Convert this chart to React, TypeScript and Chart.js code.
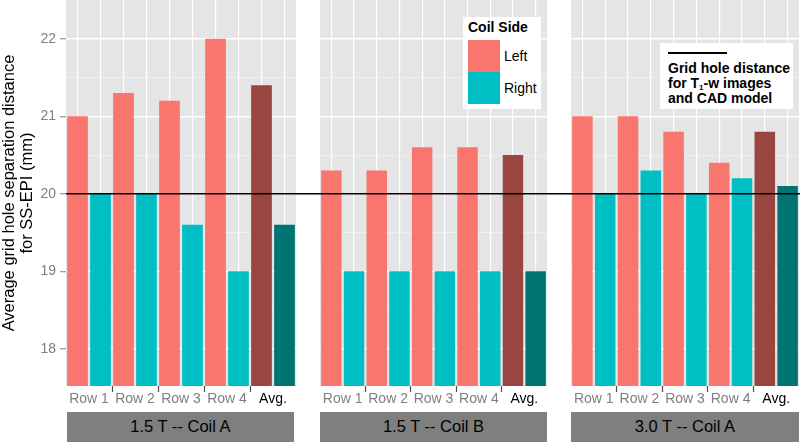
import React, { useEffect, useRef } from "react";
import { Chart, registerables } from "chart.js";

Chart.register(...registerables);

const FONT = "'Liberation Sans', Arial, Helvetica, sans-serif";

// ---------- data ----------
const CATEGORIES = ["Row 1", "Row 2", "Row 3", "Row 4", "Avg."];
const PANEL_TITLES = ["1.5 T -- Coil A", "1.5 T -- Coil B", "3.0 T -- Coil A"];
const SERIES_NAMES = ["Left", "Right"];

const LEFT_15T_COIL_A = [21.0, 21.3, 21.2, 22.0, 21.4];
const RIGHT_15T_COIL_A = [20.0, 20.0, 19.6, 19.0, 19.6];
const LEFT_15T_COIL_B = [20.3, 20.3, 20.6, 20.6, 20.5];
const RIGHT_15T_COIL_B = [19.0, 19.0, 19.0, 19.0, 19.0];
const LEFT_30T_COIL_A = [21.0, 21.0, 20.8, 20.4, 20.8];
const RIGHT_30T_COIL_A = [20.0, 20.3, 20.0, 20.2, 20.1];

const REFERENCE_DISTANCE = 20;
const Y_MIN = 17.52;
const Y_MAX = 22.5;
const Y_STEP = 0.5;
const Y_TITLE = ["Average grid hole separation distance", "for SS-EPI (mm)"];
const LEGEND_TITLE = "Coil Side";

const PANEL_SERIES = [
  [LEFT_15T_COIL_A, RIGHT_15T_COIL_A],
  [LEFT_15T_COIL_B, RIGHT_15T_COIL_B],
  [LEFT_30T_COIL_A, RIGHT_30T_COIL_A],
];

// ---------- styles ----------
const COLOR_LEFT = "#F8766D";
const COLOR_RIGHT = "#00BFC4";
const COLOR_LEFT_AVG = "#98463F";
const COLOR_RIGHT_AVG = "#007373";
const PANEL_BG = "#E5E5E5";
const GREY_TEXT = "#7F7F7F";

const CHART_H = 442;
const PLOT_BOTTOM = 386;
const LAYOUT = [
  { canvasLeft: 0, canvasWidth: 308, padLeft: 0, padRight: 12, axisWidth: 66 },
  { canvasLeft: 308, canvasWidth: 251, padLeft: 12, padRight: 12, axisWidth: 0 },
  { canvasLeft: 559, canvasWidth: 241, padLeft: 12, padRight: 1, axisWidth: 0 },
];

const GRID_SLOTS = CATEGORIES.flatMap((c) => SERIES_NAMES.map((s) => `${c} ${s}`));

function barColors(base: string, avg: string) {
  return CATEGORIES.map((c, i) => (i === CATEGORIES.length - 1 ? avg : base));
}

function makeConfig(panelIndex: number): any {
  const L = LAYOUT[panelIndex];
  const showY = panelIndex === 0;
  const isFirst = panelIndex === 0;
  const isLast = panelIndex === LAYOUT.length - 1;
  const [leftVals, rightVals] = PANEL_SERIES[panelIndex];

  const isMajor = (v: number) => Math.abs(v - Math.round(v)) < 1e-6;

  const panelBg = {
    id: "panelBg" + panelIndex,
    beforeDraw(chart: any) {
      const { ctx, chartArea } = chart;
      ctx.save();
      ctx.fillStyle = PANEL_BG;
      ctx.fillRect(chartArea.left, chartArea.top, chartArea.right - chartArea.left, chartArea.bottom - chartArea.top);
      ctx.restore();
    },
  };

  const refLine = {
    id: "refLine" + panelIndex,
    afterDatasetsDraw(chart: any) {
      const { ctx, chartArea } = chart;
      const y = chart.scales.y.getPixelForValue(REFERENCE_DISTANCE);
      const x0 = isFirst ? chartArea.left : 0;
      const x1 = isLast ? chartArea.right + L.padRight : chart.width;
      ctx.save();
      ctx.strokeStyle = "#000000";
      ctx.lineWidth = 1.5;
      ctx.beginPath();
      ctx.moveTo(x0, y);
      ctx.lineTo(x1, y);
      ctx.stroke();
      ctx.restore();
    },
  };

  return {
    type: "bar",
    data: {
      labels: CATEGORIES,
      datasets: [
        {
          label: SERIES_NAMES[0],
          data: leftVals,
          backgroundColor: barColors(COLOR_LEFT, COLOR_LEFT_AVG),
          borderWidth: 0,
          categoryPercentage: 1,
          barPercentage: 0.9,
          xAxisID: "x",
          yAxisID: "y",
        },
        {
          label: SERIES_NAMES[1],
          data: rightVals,
          backgroundColor: barColors(COLOR_RIGHT, COLOR_RIGHT_AVG),
          borderWidth: 0,
          categoryPercentage: 1,
          barPercentage: 0.9,
          xAxisID: "x",
          yAxisID: "y",
        },
      ],
    },
    options: {
      responsive: false,
      animation: false,
      devicePixelRatio: 1,
      layout: { padding: { left: L.padLeft, right: L.padRight, top: 0, bottom: 0 } },
      plugins: { legend: { display: false }, tooltip: { enabled: false }, title: { display: false } },
      scales: {
        x: {
          type: "category",
          position: "bottom",
          offset: true,
          grid: {
            offset: true,
            drawOnChartArea: false,
            drawTicks: true,
            tickLength: 6,
            lineWidth: 1,
            tickWidth: 1.2,
            color: "rgba(0,0,0,0)",
            tickColor: (ctx: any) =>
              ctx.index > 0 && ctx.index < CATEGORIES.length ? "#4D4D4D" : "rgba(0,0,0,0)",
          },
          border: { display: false },
          ticks: {
            color: (ctx: any) => (ctx.index === CATEGORIES.length - 1 ? "#000000" : GREY_TEXT),
            font: { family: FONT, size: 14 },
            padding: -1,
            maxRotation: 0,
            minRotation: 0,
            autoSkip: false,
          },
          afterFit: (s: any) => {
            s.height = CHART_H - PLOT_BOTTOM;
            s.paddingLeft = 0;
            s.paddingRight = 0;
          },
        },
        xg: {
          type: "category",
          labels: GRID_SLOTS,
          position: "top",
          offset: true,
          grid: { offset: false, color: "#FFFFFF", lineWidth: 1.2, drawTicks: false },
          ticks: { display: false },
          border: { display: false },
          afterFit: (s: any) => {
            s.height = 0;
            s.paddingLeft = 0;
            s.paddingRight = 0;
          },
        },
        y: {
          type: "linear",
          position: "left",
          min: Y_MIN,
          max: Y_MAX,
          ticks: {
            display: showY,
            stepSize: Y_STEP,
            includeBounds: false,
            callback: (v: any) => (isMajor(Number(v)) ? String(Math.round(Number(v))) : ""),
            color: GREY_TEXT,
            font: { family: FONT, size: 14 },
            padding: 4,
          },
          grid: {
            color: (ctx: any) => (ctx.tick && isMajor(ctx.tick.value) ? "#FFFFFF" : "#F2F2F2"),
            lineWidth: (ctx: any) => {
              if (!ctx.tick || ctx.tick.value >= Y_MAX - 1e-6) return 0;
              return isMajor(ctx.tick.value) ? 1.5 : 0.8;
            },
            drawTicks: showY,
            tickLength: 6,
            tickWidth: 1,
            tickColor: (ctx: any) => (ctx.tick && isMajor(ctx.tick.value) ? GREY_TEXT : "rgba(0,0,0,0)"),
          },
          border: { display: false },
          title: showY
            ? {
                display: true,
                text: Y_TITLE,
                color: "#000000",
                font: { family: FONT, size: 16.5, lineHeight: 1.1 },
                padding: 0,
              }
            : { display: false },
          afterFit: (s: any) => {
            s.width = L.axisWidth;
            s.paddingTop = 0;
            s.paddingBottom = 0;
          },
        },
      },
    },
    plugins: [panelBg, refLine],
  };
}

export default function App() {
  const r0 = useRef<HTMLCanvasElement>(null);
  const r1 = useRef<HTMLCanvasElement>(null);
  const r2 = useRef<HTMLCanvasElement>(null);
  const refs = [r0, r1, r2];

  useEffect(() => {
    const charts = refs.map((r, i) => new Chart(r.current as HTMLCanvasElement, makeConfig(i)));
    return () => charts.forEach((c) => c.destroy());
  }, []);

  return (
    <div
      style={{
        position: "fixed",
        left: 0,
        top: 0,
        width: 800,
        height: CHART_H,
        background: "#FFFFFF",
        fontFamily: FONT,
        overflow: "hidden",
      }}
    >
      {LAYOUT.map((L, i) => (
        <canvas
          key={"c" + i}
          ref={refs[i]}
          width={L.canvasWidth}
          height={CHART_H}
          style={{ position: "absolute", left: L.canvasLeft, top: 0, width: L.canvasWidth, height: CHART_H }}
        />
      ))}
      {LAYOUT.map((L, i) => {
        const left = L.canvasLeft + L.padLeft + L.axisWidth + (i === 0 ? 1 : 0);
        const right = L.canvasLeft + L.canvasWidth - L.padRight - (i === 0 ? 2 : 0);
        return (
          <div
            key={"s" + i}
            style={{
              position: "absolute",
              left,
              top: 412,
              width: right - left,
              height: 30,
              background: GREY_TEXT,
              color: "#000000",
              fontSize: 16.5,
              lineHeight: "29px",
              textAlign: "center",
            }}
          >
            {PANEL_TITLES[i]}
          </div>
        );
      })}
      {/* fill legend */}
      <div
        style={{
          position: "absolute",
          left: 463,
          top: 17,
          width: 78,
          height: 92,
          background: "#FFFFFF",
        }}
      >
        <div style={{ position: "absolute", left: 5, top: 2, fontWeight: "bold", fontSize: 14, lineHeight: "16px" }}>
          {LEGEND_TITLE}
        </div>
        {SERIES_NAMES.map((name, i) => (
          <React.Fragment key={name}>
            <div
              style={{
                position: "absolute",
                left: 5,
                top: 23 + i * 32,
                width: 32,
                height: 32,
                background: i === 0 ? COLOR_LEFT : COLOR_RIGHT,
              }}
            />
            <div
              style={{
                position: "absolute",
                left: 41,
                top: 23 + i * 32,
                height: 32,
                lineHeight: "32px",
                fontSize: 14,
                color: "#000000",
              }}
            >
              {name}
            </div>
          </React.Fragment>
        ))}
      </div>
      {/* reference line legend */}
      <div
        style={{
          position: "absolute",
          left: 660,
          top: 43,
          width: 133,
          height: 66,
          background: "#FFFFFF",
        }}
      >
        <div style={{ position: "absolute", left: 8, top: 9, width: 59, height: 2, background: "#000000" }} />
        <div
          style={{
            position: "absolute",
            left: 8,
            top: 18,
            fontWeight: "bold",
            fontSize: 14,
            lineHeight: "15px",
            color: "#000000",
            whiteSpace: "nowrap",
          }}
        >
          <div>Grid hole distance</div>
          <div>
            for T<sub style={{ fontSize: 8, verticalAlign: "-2px", lineHeight: 0 }}>1</sub>-w images
          </div>
          <div>and CAD model</div>
        </div>
      </div>
    </div>
  );
}
